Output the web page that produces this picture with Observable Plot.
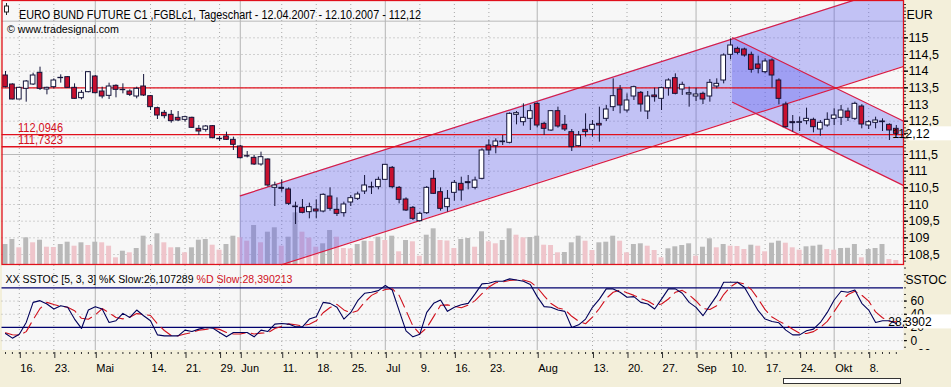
<!DOCTYPE html>
<html>
<head>
<meta charset="utf-8">
<script src="https://cdn.jsdelivr.net/npm/d3@7"></script>
<script src="https://cdn.jsdelivr.net/npm/@observablehq/plot@0.6"></script>
<style>
  html, body { margin: 0; padding: 0; background: #f3efda; }
  #chart { position: relative; width: 951px; height: 387px; overflow: hidden; background: #f3efda; }
  #chart svg { position: absolute; left: 0; }
</style>
</head>
<body>
<div id="chart"></div>
<script>
// ---------- data ----------
const title = "EURO BUND FUTURE C1 ,FGBLc1, Tageschart - 12.04.2007 - 12.10.2007 - 112,12";
const credit = "© www.tradesignal.com";
const stochTitle1 = "XX SSTOC [5, 3, 3] %K Slow:26,107289";
const stochTitle2 = "%D Slow:28,390213";

const opens = [113.87,113.60,113.15,113.47,113.60,113.95,113.45,113.52,113.79,113.82,
 113.50,113.19,113.37,113.84,113.39,113.26,113.56,113.44,113.39,113.24,
 113.54,113.25,112.89,112.75,112.69,112.60,112.54,112.60,112.27,112.24,
 112.35,111.97,112.04,111.94,111.74,111.45,111.40,111.20,111.35,110.50,
 110.50,110.45,109.94,109.90,109.77,109.85,109.79,110.24,109.84,109.74,
 110.06,110.17,110.39,110.52,110.52,110.74,111.10,110.50,110.15,109.90,
 109.50,109.74,110.77,110.37,109.92,110.35,110.62,110.67,110.50,110.77,
 111.77,111.75,111.87,111.85,112.69,112.47,112.57,113.02,112.42,112.22,
 112.80,112.39,112.17,111.75,112.24,112.24,112.42,112.57,112.92,113.45,
 112.82,113.24,113.35,112.79,113.27,113.17,113.49,113.79,113.45,113.30,
 113.24,113.32,113.24,113.54,113.72,114.49,114.67,114.65,114.49,114.20,
 113.97,114.32,113.72,113.00,112.47,112.45,112.50,112.54,112.25,112.37,
 112.57,112.60,112.79,112.57,112.94,112.37,112.45,112.49,112.39,112.27];
const highs = [113.99,113.62,113.52,113.72,113.94,114.12,113.52,113.77,113.89,113.84,
 113.62,113.42,113.99,113.87,113.52,113.64,113.59,113.62,113.44,113.52,
 113.90,113.27,112.92,112.82,112.82,112.79,112.65,112.62,112.37,112.37,
 112.37,112.04,112.17,112.02,111.77,111.59,111.47,111.57,111.37,110.67,
 110.74,110.50,110.07,110.15,110.04,110.14,110.32,110.50,110.20,110.07,
 110.27,110.37,110.87,110.67,110.82,111.20,111.14,110.54,110.20,109.94,
 109.77,110.54,111.02,110.50,110.42,110.72,110.82,110.87,110.82,111.67,
 111.94,111.97,112.07,112.75,112.79,113.02,112.97,113.05,112.47,112.82,
 112.92,112.67,112.25,112.19,112.72,112.52,112.92,112.97,113.77,113.57,
 113.32,113.55,113.39,113.39,113.49,113.52,113.77,113.92,113.67,113.52,
 113.49,113.37,113.75,113.77,114.52,114.97,114.72,114.69,114.57,114.45,
 114.37,114.37,113.77,113.07,112.67,112.62,112.89,112.59,112.52,112.75,
 112.87,112.97,112.89,113.07,112.99,112.52,112.62,112.57,112.42,112.37];
const lows = [113.50,113.14,113.14,113.07,113.57,113.42,113.29,113.47,113.64,113.49,
 113.16,113.14,113.35,113.32,113.17,113.15,113.20,113.32,113.24,113.17,
 113.24,112.82,112.55,112.57,112.44,112.49,112.47,112.29,112.07,112.17,
 111.97,111.89,111.92,111.62,111.37,111.40,111.17,111.15,110.52,109.94,
 110.37,109.97,109.40,109.72,109.57,109.57,109.75,109.80,109.64,109.62,
 109.94,110.12,110.30,110.30,110.44,110.72,110.47,110.02,109.79,109.52,
 109.47,109.70,110.30,109.80,109.77,110.10,110.10,110.44,110.44,110.74,
 111.47,111.52,111.77,111.82,112.39,112.35,112.22,112.30,112.07,112.19,
 112.29,112.19,111.59,111.72,112.02,112.02,111.87,112.49,112.79,112.72,
 112.75,113.12,112.77,112.55,113.07,112.82,113.25,113.29,113.27,112.92,
 113.09,113.00,113.07,113.47,113.62,114.34,114.49,114.42,113.94,113.92,
 113.92,113.49,112.99,112.29,112.17,112.19,112.39,112.15,112.05,112.32,
 112.37,112.37,112.49,112.52,112.27,112.25,112.27,112.19,111.92,112.07];
const closes = [113.52,113.15,113.50,113.69,113.87,113.47,113.50,113.72,113.80,113.50,
 113.17,113.35,113.97,113.34,113.24,113.54,113.44,113.43,113.29,113.47,
 113.27,112.92,112.67,112.65,112.50,112.52,112.62,112.30,112.19,112.34,
 111.99,111.96,111.94,111.79,111.39,111.44,111.20,111.42,110.57,110.57,
 110.47,110.02,109.92,109.75,109.92,109.79,110.29,109.87,109.72,110.00,
 110.19,110.30,110.57,110.51,110.74,111.19,110.52,110.14,109.82,109.57,
 109.72,110.50,110.32,109.87,110.17,110.65,110.42,110.64,110.72,111.62,
 111.62,111.89,111.89,112.72,112.74,112.60,112.80,112.37,112.27,112.80,
 112.34,112.25,111.72,112.07,112.17,112.39,112.37,112.85,113.25,112.97,
 113.12,113.52,113.00,113.24,113.22,113.49,113.72,113.32,113.59,113.34,
 113.30,113.15,113.65,113.62,114.47,114.77,114.55,114.47,114.04,114.07,
 114.29,113.87,113.17,112.32,112.44,112.47,112.57,112.32,112.45,112.54,
 112.67,112.82,112.60,113.02,112.40,112.47,112.52,112.47,112.22,112.12];
// volume, thousand contracts
const volumes = [1000,1250,835,1335,1085,1215,865,850,1000,1115,
 915,1085,950,1115,1085,915,335,665,585,800,
 1415,965,1535,1085,835,840,585,835,1215,1250,
 965,715,1000,1415,1335,1165,1950,1085,1615,1835,
 915,1365,2585,1615,1320,865,1035,1700,1365,800,
 775,1000,1165,1150,1365,1200,1415,635,1200,1135,
 415,1465,1785,1200,1175,800,1250,1300,865,1635,
 1135,1035,1200,1785,1465,1335,1350,1415,965,950,
 585,600,1085,1415,1165,700,1085,1115,1415,1165,
 585,1000,1035,915,700,335,785,885,950,1035,
 415,865,1285,835,1000,915,900,750,965,915,
 635,1065,1165,1065,835,715,885,915,965,750,
 715,800,810,1000,335,750,800,1000,250,200];
const stochK = [10.9,3.8,9.8,27.6,58,60.6,55.5,47.9,53,50.5,
 32.7,18.5,46.4,51.5,47.9,27.6,30.2,41.3,35.2,46.4,
 37.8,30.2,8.8,7.3,7.3,7.3,16,13.9,17.5,20,
 19,12.4,5.8,12.4,12.4,12.4,5.8,16,13.9,25.1,
 26.1,25.1,21,21,32.7,36.2,58,56.5,50.5,32.7,
 42.8,60.6,71.8,73.3,75.8,83.5,76.8,45.4,14.9,5.8,
 9.8,42.8,56.5,61.6,44.4,50.5,54.5,56.5,70.8,86,
 87,90,90,93.6,92,90,85,66.7,51.5,50.5,
 46.4,44.4,20,24,32.7,50.5,63,78.4,78.4,73.3,
 65.7,66.7,58,55.5,47.9,63,78.4,78.4,71.8,58,
 50.5,37.8,53,68.2,88.5,88.5,88.5,81,63,45.4,
 32.7,29.1,27.1,16,8.8,8.8,14.9,17.5,27.6,42.8,
 61.6,74.8,73.3,76.8,56.5,46.4,27.6,30.2,30.2,26.107289];
const stochD = [12,9,8.2,13.7,31.8,48.7,58,54.7,52.1,50.5,
 45.4,33.9,32.5,38.8,48.6,42.3,35.2,33,35.6,41,
 39.8,38.1,25.6,15.4,7.8,7.3,10.2,12.4,15.8,17.1,
 18.8,17.1,12.4,10.2,10.2,12.4,10.2,11.4,11.9,18.3,
 21.7,25.4,24.1,22.4,24.9,30,42.3,50.2,55,46.6,
 42,45.4,58.4,68.6,73.6,77.5,78.7,68.6,45.7,22,
 10.2,19.5,36.4,53.6,54.2,52.2,49.8,53.8,60.6,71.1,
 81.3,87.7,89,91.2,91.9,91.9,89,80.6,67.7,56.2,
 49.5,47.1,36.9,29.5,25.6,35.7,48.7,64,73.3,76.7,
 72.5,68.6,63.5,60.1,53.8,55.5,63.1,73.3,76.2,69.4,
 60.1,48.8,47.1,53,69.9,81.7,88.5,86,77.5,63.1,
 47,35.7,29.6,24.1,17.3,11.2,10.8,13.7,20,29.3,
 44,59.7,69.9,75,68.9,59.9,43.5,34.7,29.3,28.390213];

const tickIdx = [2,7,13,21,26,31,34,40,45,50,55,60,65,70,77,85,90,95,100,105,110,115,120,125];
const tickLabels = ["16.","23.","Mai","14.","21.","29.","Jun","11.","18.","25.","Jul","9.","16.","23.","Aug","13.","20.","27.","Sep","10.","17.","24.","Okt","8."];
const monthIdx = [13,34,55,77,100,120];
const priceTicks = [108.5,109,109.5,110,110.5,111,111.5,112,112.5,113,113.5,114,114.5,115];
const priceGridSolid = [111.5,115.5];
const stochTicks = [60,40,20,0,-20];
const stochGrid = [0,40,60];
const stochBands = [20,80];
const levelLines = [113.5,112.0946,111.7323];
const levelLabels = ["","112,0946","111,7323"];
const upChannel = {x:[34,130.04], upper:[110.26,116.60], lower:[107.80,114.14]};
const downChannel = {x:[105.28,130.04], upper:[115.00,112.50], lower:[113.07,110.57]};
const lastPrice = 112.12;
const lastD = 28.390213;

// ---------- helpers ----------
const FONT = "'Liberation Sans', Arial, sans-serif";
const xDomain = [-0.507, 130.04];
const baseStyle = {background: "transparent", fontFamily: FONT, overflow: "visible"};
const chart = document.getElementById("chart");
const bars = opens.map((o, i) => ({i, o, h: highs[i], l: lows[i], c: closes[i]}));
const vols = volumes.map((v, i) => ({i, v, up: i === 0 || v >= volumes[i - 1]}));
const stoch = stochK.map((k, i) => ({i, k, d: stochD[i]}));
const weekOnly = tickIdx.filter(t => !monthIdx.includes(t));
const priceGridDotted = priceTicks.filter(p => !priceGridSolid.includes(p));
// the label nearest the last price is hidden under the last-price box, as in the reference
const priceLabelTicks = priceTicks.filter(p => Math.abs(p - lastPrice) > 0.2);
const labelMap = new Map(tickIdx.map((t, j) => [t, tickLabels[j]]));
const chanRows = ch => ch.x.map((x, j) => ({x, hi: ch.upper[j], lo: ch.lower[j]}));
const upRows = chanRows(upChannel), downRows = chanRows(downChannel);
const levels = levelLines.map((v, j) => ({v, label: levelLabels[j]}));

function place(svg, top) { svg.style.top = top + "px"; chart.appendChild(svg); return svg; }
const common = {width: 951, marginLeft: 1.5, marginRight: 48, x: {domain: xDomain, axis: null, label: null}};

// ---------- main panel background + grid ----------
place(Plot.plot({
  ...common, height: 265, marginTop: 0, marginBottom: 1, style: baseStyle,
  y: {domain: [108.2, 116.12], axis: null, label: null},
  marks: [
    Plot.frame({fill: "#f7f7f7", stroke: "none"}),
    Plot.ruleY(priceGridDotted, {stroke: "#a9a9a9", strokeDasharray: "1,3"}),
    Plot.ruleY(priceGridSolid, {stroke: "#b9b9b9"}),
    Plot.ruleX(weekOnly, {stroke: "#a9a9a9", strokeDasharray: "1,3"}),
    Plot.ruleX(monthIdx, {stroke: "#b4b4b4"})
  ]
}), 0);

// ---------- volume ----------
place(Plot.plot({
  ...common, height: 265, marginTop: 0, marginBottom: 1, style: baseStyle,
  y: {domain: [0, 13200], axis: null, label: null},
  color: {type: "identity"},
  marks: [
    Plot.rect(vols, {x1: d => d.i - 0.36, x2: d => d.i + 0.36, y1: 0, y2: "v",
      fill: d => d.up ? "#b9b9b9" : "#efc5cb"})
  ]
}), 0);

// ---------- price panel ----------
const main = place(Plot.plot({
  ...common, height: 265, marginTop: 0, marginBottom: 1, style: baseStyle,
  y: {domain: [108.2, 116.12], label: null},
  color: {type: "identity"},
  marks: [
    Plot.areaY(upRows, {x: "x", y1: "lo", y2: "hi", fill: "#5c5cf0", fillOpacity: 0.34, clip: true}),
    Plot.areaY(downRows, {x: "x", y1: "lo", y2: "hi", fill: "#5c5cf0", fillOpacity: 0.34, clip: true}),
    Plot.line(upRows, {x: "x", y: "hi", stroke: "#d81b45", strokeWidth: 1.2, clip: true}),
    Plot.line(upRows, {x: "x", y: "lo", stroke: "#d81b45", strokeWidth: 1.2, clip: true}),
    Plot.line(downRows, {x: "x", y: "hi", stroke: "#d81b45", strokeWidth: 1.2, clip: true}),
    Plot.line(downRows, {x: "x", y: "lo", stroke: "#d81b45", strokeWidth: 1.2, clip: true}),
    Plot.ruleY(levels, {y: "v", stroke: "#e0101c", strokeWidth: 1.3}),
    Plot.text(levels, {y: "v", text: "label", frameAnchor: "left", dx: 16, dy: -7, textAnchor: "start",
      fill: "#d4101c", fontSize: 12}),
    Plot.ruleX(bars, {x: "i", y1: "l", y2: "h", stroke: "#14143a", strokeWidth: 1}),
    Plot.rect(bars, {x1: d => d.i - 0.34, x2: d => d.i + 0.34, y1: "o", y2: "c",
      fill: d => d.c >= d.o ? "#ffffff" : "#c8102e", stroke: "#14143a", strokeWidth: 1}),
    Plot.frame({stroke: "#e0101c", strokeWidth: 1.3}),
    Plot.axisY(d3.range(108.3, 116.05, 0.1), {anchor: "right", tickSize: 2, tickFormat: () => "", stroke: "#333"}),
    Plot.axisY(priceTicks, {anchor: "right", tickSize: 4, tickFormat: () => "", stroke: "#333"}),
    Plot.axisY(priceLabelTicks, {anchor: "right", tickSize: 4, tickPadding: 1, fontSize: 12.5, fill: "#000",
      tickFormat: d => String(d).replace(".", ","), label: null}),
    Plot.text(["EUR"], {frameAnchor: "top-right", dx: 3, dy: 10, textAnchor: "start", fontSize: 12.5, fill: "#000"}),
    Plot.text([title], {frameAnchor: "top-left", dx: 17, dy: 10, textAnchor: "start", fontSize: 12.5, fill: "#000"}),
    Plot.text([credit], {frameAnchor: "top-left", dx: 5, dy: 25, textAnchor: "start", fontSize: 10.5, fill: "#000"})
  ]
}), 0);
{
  const y = main.scale("y");
  const g = d3.select(main).append("g");
  const yy = y.apply(lastPrice);
  g.append("rect").attr("x", 909).attr("y", yy - 7).attr("width", 42).attr("height", 14).attr("fill", "#fff");
  g.append("line").attr("x1", 904).attr("x2", 908).attr("y1", yy).attr("y2", yy).attr("stroke", "#000");
  g.append("text").attr("x", 911).attr("y", yy).attr("dy", "0.34em").attr("font-size", 12.5)
    .attr("font-family", FONT).text(lastPrice.toFixed(2).replace(".", ","));
  // small chart icon before title
  g.append("line").attr("x1", 6.5).attr("x2", 6.5).attr("y1", 3).attr("y2", 15).attr("stroke", "#222");
  g.append("rect").attr("x", 4.5).attr("y", 6).attr("width", 4).attr("height", 6).attr("fill", "#fff").attr("stroke", "#222");
  d3.select(main).selectAll("text").each(function() {
    const t = this.textContent;
    if (t === title) this.setAttribute("textLength", 402);
    if (t === credit) this.setAttribute("textLength", 112);
    if (t === "112,0946" || t === "111,7323") this.setAttribute("textLength", 45);
    if (this.hasAttribute("textLength")) this.setAttribute("lengthAdjust", "spacingAndGlyphs");
  });
}

// ---------- stochastic panel ----------
const st = place(Plot.plot({
  ...common, height: 85, marginTop: 0, marginBottom: 0, style: {...baseStyle, overflow: "hidden"},
  y: {domain: [-14.9, 113.85], label: null},
  marks: [
    Plot.frame({fill: "#f7f7f7", stroke: "none"}),
    Plot.ruleY(stochGrid, {stroke: "#a9a9a9", strokeDasharray: "1,3"}),
    Plot.ruleX(weekOnly, {stroke: "#a9a9a9", strokeDasharray: "1,3"}),
    Plot.ruleX(monthIdx, {stroke: "#b4b4b4"}),
    Plot.ruleY(stochBands, {stroke: "#00006e", strokeWidth: 1.2}),
    Plot.line(stoch, {x: "i", y: "d", stroke: "#d0101c", strokeWidth: 1.1, strokeDasharray: "13,6"}),
    Plot.line(stoch, {x: "i", y: "k", stroke: "#00005a", strokeWidth: 1.1}),
    Plot.axisY(d3.range(-20, 111, 10), {anchor: "right", tickSize: 2, tickFormat: () => "", stroke: "#333"}),
    Plot.axisY(stochTicks, {anchor: "right", tickSize: 3, tickPadding: 4, fontSize: 12, fill: "#000", label: null}),
    Plot.text(["SSTOC"], {frameAnchor: "top-right", dx: 2, dy: 10, textAnchor: "start", fontSize: 12, fill: "#000"}),
    Plot.text([stochTitle1], {frameAnchor: "top-left", dx: 3.5, dy: 10, textAnchor: "start", fontSize: 11, fill: "#000"}),
    Plot.text([stochTitle2], {frameAnchor: "top-left", dx: 194.5, dy: 10, textAnchor: "start", fontSize: 11, fill: "#d0101c"})
  ]
}), 265);
{
  const y = st.scale("y");
  const g = d3.select(st).append("g");
  const yy = y.apply(lastD);
  g.append("rect").attr("x", 907).attr("y", yy - 7).attr("width", 44).attr("height", 14).attr("fill", "#fff");
  g.append("line").attr("x1", 903).attr("x2", 907).attr("y1", yy).attr("y2", yy).attr("stroke", "#000");
  g.append("text").attr("x", 910).attr("y", yy).attr("dy", "0.34em").attr("font-size", 12)
    .attr("font-family", FONT).text(lastD.toFixed(4).replace(".", ","));
  d3.select(st).selectAll("text").each(function() {
    const t = this.textContent;
    if (t === stochTitle1) this.setAttribute("textLength", 188);
    if (t === stochTitle2) this.setAttribute("textLength", 96);
    if (this.hasAttribute("textLength")) this.setAttribute("lengthAdjust", "spacingAndGlyphs");
  });
}

// ---------- date axis ----------
const xa = place(Plot.plot({
  ...common, height: 37, marginTop: 0, marginBottom: 35, style: baseStyle,
  marks: [
    Plot.axisX(d3.range(130), {anchor: "bottom", tickSize: 2, tickFormat: () => "", stroke: "#333"}),
    Plot.axisX(tickIdx, {anchor: "bottom", tickSize: 6, tickPadding: 6, tickFormat: d => labelMap.get(d),
      textAnchor: "start", dx: 1, fontSize: 11, fill: "#000", stroke: "#333", label: null})
  ]
}), 350);
d3.select(xa).append("rect").attr("x", 783.5).attr("y", 28.5).attr("width", 117).attr("height", 5)
  .attr("fill", "#fff").attr("stroke", "#333");
</script>
</body>
</html>
